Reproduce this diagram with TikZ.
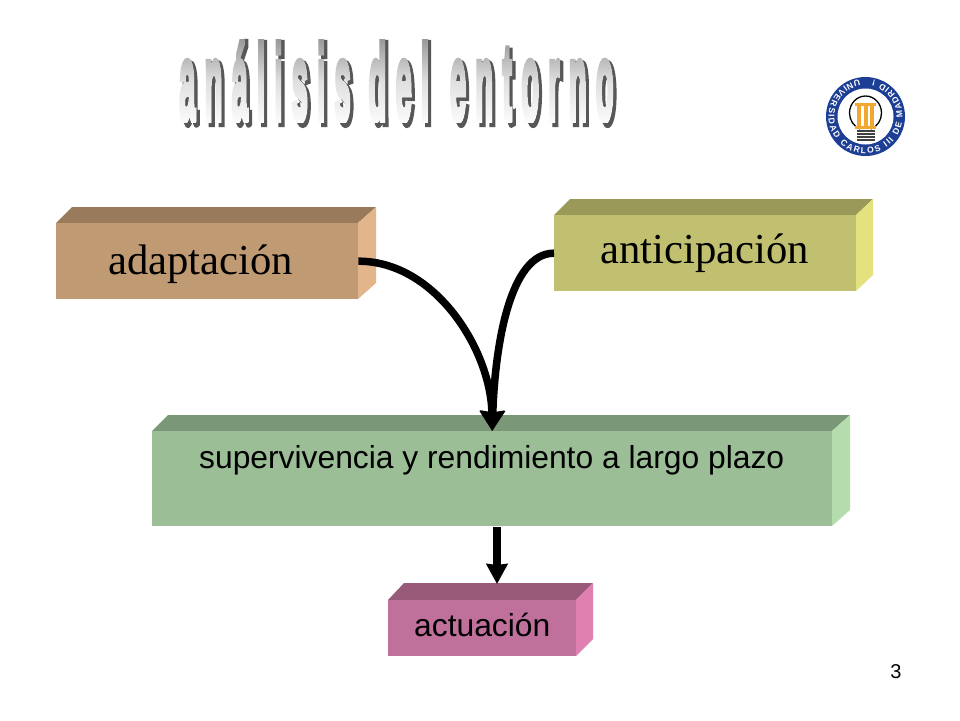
\documentclass[tikz,border=0pt]{standalone}
\usepackage{fontspec}
\usetikzlibrary{arrows.meta,fadings,decorations.text}
\setmainfont{Liberation Serif}
\setsansfont{Liberation Sans}
\newfontfamily\titlefont[FakeBold=6.5,LetterSpace=32]{Liberation Sans Bold}
\newfontfamily\titleshadow[FakeBold=7.5,LetterSpace=32]{Liberation Sans Bold}
\newfontfamily\logofont{Liberation Sans Bold}
\newcommand{\titlewords}{análisis\hspace{0.62em}del\hspace{0.72em}entorno}
\newcommand{\titletext}{\scalebox{0.50}[1.88]{\fontsize{58}{58}\titlefont\titlewords}}
\newcommand{\titleback}{\scalebox{0.50}[1.88]{\fontsize{58}{58}\titleshadow\titlewords}}
\definecolor{adF}{HTML}{C09A72}\definecolor{adT}{HTML}{997A5B}\definecolor{adS}{HTML}{E2B58B}
\definecolor{anF}{HTML}{C1C070}\definecolor{anT}{HTML}{9A9957}\definecolor{anS}{HTML}{E4E27F}
\definecolor{suF}{HTML}{9BBE97}\definecolor{suT}{HTML}{7A9878}\definecolor{suS}{HTML}{B4DCAC}
\definecolor{acF}{HTML}{C0719B}\definecolor{acT}{HTML}{995A7A}\definecolor{acS}{HTML}{DF80B0}
\definecolor{logoblue}{HTML}{1C3E94}\definecolor{logoorange}{HTML}{F0A830}
\begin{tikzfadingfrompicture}[name=titlefade]
\node[text=transparent!0,inner sep=0pt] {\titletext};
\end{tikzfadingfrompicture}
\tikzset{
  front/.style={draw=none,minimum width=#1,inner sep=0pt,anchor=north west},
  serifl/.style={font=\fontsize{42.7}{42.7}\selectfont\rmfamily,text=black,inner sep=0pt,anchor=base west},
  sansl/.style={font=\fontsize{31.8}{31.8}\selectfont\sffamily,text=black,inner sep=0pt,anchor=base west},
  flow/.style={line width=7.5pt,-{Triangle[length=20pt,width=24pt,inset=1.5pt]}},
}
\begin{document}
\begin{tikzpicture}[x=1pt,y=-1pt]
\useasboundingbox (0,0) rectangle (960,720);
\fill[white] (0,0) rectangle (960,720);
% title
\node[inner sep=0pt,text=black!66] (titleS) at (399.5,83.5) {\titleback};
\shade[path fading=titlefade,fit fading=false,fading transform={shift={(396.5,80.5)}},
  top color=black!42,bottom color=white,middle color=black!12]
  (97,36) rectangle (697,128);
% boxes
\fill[adT] (56,223)--(72,207)--(376,207)--(358,223)--cycle;
\fill[adS] (358,223)--(376,207)--(376,283)--(358,299)--cycle;
\node[front=302pt,fill=adF,minimum height=76pt] (ad) at (56,223) {};
\fill[anT] (554,215)--(570,199)--(873,199)--(856,215)--cycle;
\fill[anS] (856,215)--(873,199)--(873,275)--(856,291)--cycle;
\node[front=302pt,fill=anF,minimum height=76pt] (an) at (554,215) {};
\fill[suT] (152,431)--(168,415)--(850,415)--(832,431)--cycle;
\fill[suS] (832,431)--(850,415)--(850,510)--(832,526)--cycle;
\node[front=680pt,fill=suF,minimum height=95pt] (su) at (152,431) {};
\fill[acT] (388,600)--(404,583)--(593,583)--(576,600)--cycle;
\fill[acS] (576,600)--(593,583)--(593,639)--(576,656)--cycle;
\node[front=188pt,fill=acF,minimum height=56pt] (ac) at (388,600) {};
\node[serifl] (adl) at (108,274) {adaptación};
\node[serifl] (anl) at (600,263) {anticipación};
\node[sansl] (sul) at (199,468) {supervivencia y rendimiento a largo plazo};
\node[sansl] (acl) at (414,636) {actuación};
\node[sansl,font=\fontsize{20}{20}\selectfont\sffamily,anchor=base] (num) at (896,678) {3};
% connectors
\coordinate (suTop) at (su.north);
\coordinate (downA) at (497,527);
\coordinate (downB) at (497,584);
\draw[flow] (ad.east) .. controls (435,261) and (491,350) .. (suTop);
\draw[flow] (an.west) .. controls (510,253) and (495,345) .. (suTop);
\draw[flow,-{Triangle[length=20pt,width=21pt,inset=1pt]}] (downA) -- (downB);
% logo
\fill[logoblue] (865.5,116.5) circle (39.5);
\fill[white] (865.5,116.5) circle (28);
\path[decorate,decoration={text along path,text align={fit to path},
  text={|\fontsize{8.6}{8.6}\logofont\color{white}|UNIVERSIDAD~CARLOS~III~DE~MADRID~!}}]
  (865.5,116.5) ++(-100:37) arc[start angle=-100,end angle=-438,radius=37];
\draw[black,line width=1.3pt] (865.5,96) arc[start angle=-90,end angle=-250,x radius=16,y radius=17];
\draw[black,line width=1.3pt] (865.5,96) arc[start angle=-90,end angle=70,x radius=16,y radius=17];
\fill[white] (856,103) rectangle (875,126);
\foreach \px in {857,863.5,870}{\fill[logoorange] (\px,105) rectangle (\px+4,127);}
\fill[logoorange] (855,103) rectangle (876,106);
\fill[logoorange] (855,126) rectangle (876,129);
\foreach \py in {130,133,136,139}{\fill[black!75] (857,\py) rectangle (875,\py+1.6);}
\end{tikzpicture}
\end{document}
